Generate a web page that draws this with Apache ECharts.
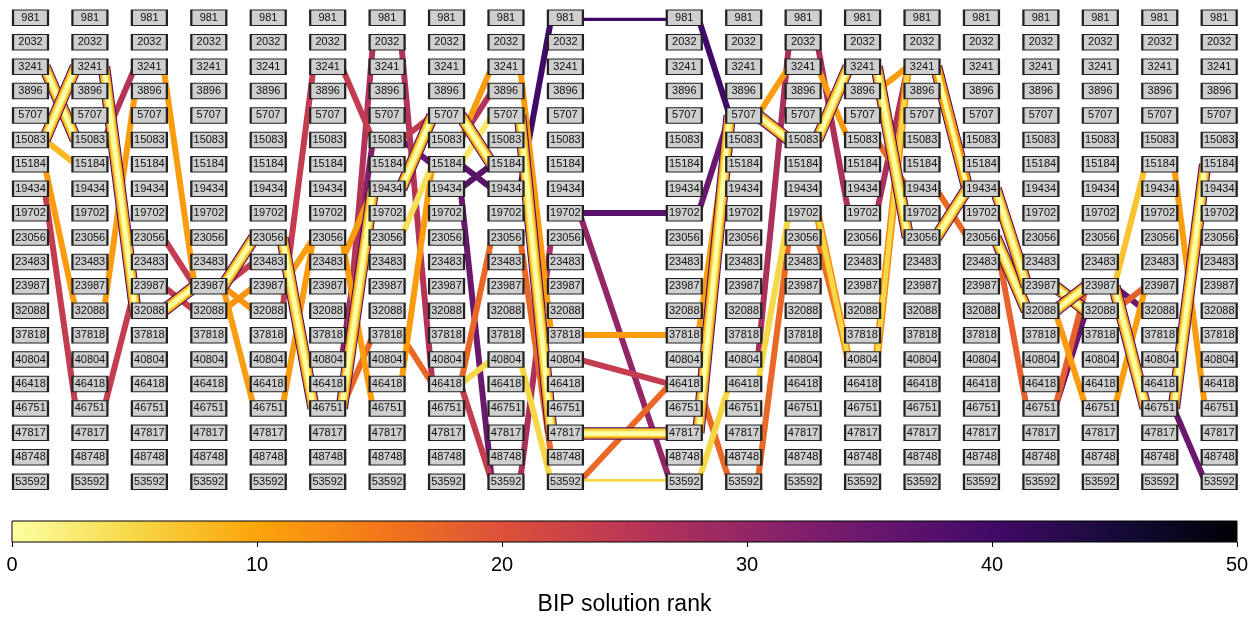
<!DOCTYPE html>
<html><head><meta charset="utf-8">
<script src="https://cdn.jsdelivr.net/npm/echarts@6/dist/echarts.min.js"></script>
<style>html,body{margin:0;padding:0;background:#fff}#c{width:1257px;height:617px}</style>
</head><body><div id="c"></div>
<script>
// ---- data ----
const rowLabels = ['981','2032','3241','3896','5707','15083','15184','19434','19702','23056',
  '23483','23987','32088','37818','40804','46418','46751','47817','48748','53592'];
const columns = [0,1,2,3,4,5,6,7,8,9,11,12,13,14,15,16,17,18,19,20];
// [fromCol, fromRow, toCol, toRow, rank, border]
const segments = [
  [0,2,1,5,1,1],[0,5,1,2,1,1],[0,5,1,6,8,0],[0,6,1,12,11,0],[0,7,1,16,24,0],
  [1,2,2,12,1,1],[1,2,2,11,3,0],[1,12,2,3,11,0],[1,5,2,2,26,0],[1,16,2,11,24,0],
  [2,2,3,11,11,0],[2,9,3,11,24,0],[2,11,3,12,24,0],[2,12,3,11,1,1],
  [3,11,4,9,1,1],[3,11,4,12,12,0],[3,12,4,11,12,0],[3,11,4,16,11,0],[3,11,4,10,24,0],
  [4,9,5,16,1,1],[4,16,5,9,11,0],[4,11,5,9,11,0],[4,12,5,2,24,0],
  [5,2,6,5,24,0],[5,16,6,7,1,1],[5,9,6,16,11,0],[5,16,6,13,17,0],[5,16,6,1,26,0],[5,10,6,7,11,0],[5,14,6,5,32,0],
  [6,1,7,15,26,0],[6,5,7,4,24,0],[6,7,7,4,1,1],[6,9,7,6,4,0],[6,5,7,6,35,0],[6,13,7,15,17,0],[6,15,7,6,11,0],
  [7,4,8,6,1,1],[7,6,8,4,3,0],[7,5,8,2,11,0],[7,5,8,3,26,0],[7,7,8,6,37,0],[7,6,8,7,37,0],[7,7,8,19,35,0],
  [7,15,8,9,17,0],[7,15,8,19,24,0],[7,15,8,14,5,0],
  [8,2,9,13,11,0],[8,4,9,17,1,1],[8,9,9,18,17,0],[8,14,9,19,5,0],[8,19,9,9,27,0],[8,7,9,0,40,0],
  [9,0,11,0,40,0],[9,8,11,8,37,0],[9,13,11,13,11,0],[9,17,11,17,1,1],[9,19,11,19,5,0],[9,14,11,15,24,0],
  [9,19,11,15,17,0],[9,8,11,19,30,0],
  [11,0,12,4,40,0],[11,8,12,4,35,0],[11,17,12,4,1,1],[11,13,12,4,11,0],[11,15,12,19,17,0],[11,19,12,15,5,0],
  [12,4,13,2,11,0],[12,4,13,5,1,1],[12,14,13,1,27,0],[12,15,13,8,5,0],[12,19,13,9,17,0],
  [13,2,14,5,11,0],[13,5,14,2,1,1],[13,1,14,8,27,0],[13,9,14,14,17,0],[13,8,14,14,5,2],
  [14,2,15,9,1,1],[14,3,15,2,11,0],[14,8,15,2,27,0],[14,5,15,7,17,0],[14,14,15,2,5,2],
  [15,2,16,7,6,1],[15,9,16,7,1,1],[15,7,16,9,17,0],
  [16,9,17,12,1,1],[16,9,17,16,18,0],[16,7,17,11,1,1],
  [17,11,18,12,1,1],[17,12,18,11,1,1],[17,12,18,16,11,0],[17,16,18,12,35,0],[17,16,18,11,18,0],
  [18,11,19,16,1,1],[18,16,19,11,11,0],[18,11,19,12,35,0],[18,12,19,11,18,0],[18,11,19,6,7,0],
  [19,16,20,6,1,1],[19,6,20,16,11,0],[19,16,20,19,35,0]
];
const rankMin = 0, rankMax = 50;
const rankTicks = [0,10,20,30,40,50];
const colorTitle = 'BIP solution rank';

// ---- colormap (inferno, reversed) ----
const inferno = ['#000004','#160b39','#420a68','#6a176e','#932667','#bc3754','#dd513a','#f37819','#fca50a','#f6d746','#fcffa4'];
function hex2rgb(h){return [parseInt(h.slice(1,3),16),parseInt(h.slice(3,5),16),parseInt(h.slice(5,7),16)];}
function cmap(rank){
  let t = 1 - (rank - rankMin)/(rankMax - rankMin);
  t = Math.max(0, Math.min(1, t));
  const f = t*10, i = Math.min(9, Math.floor(f)), u = f - i;
  const a = hex2rgb(inferno[i]), b = hex2rgb(inferno[i+1]);
  const c = a.map((v,k)=>Math.round(v + (b[k]-v)*u));
  return 'rgb('+c.join(',')+')';
}

// ---- build line items ----
const dx = 0.236;
const order = segments.slice().sort((a,b)=> (b[4]-a[4]) || (a[5]-b[5]));
const lineItems = [];
order.forEach(s=>{
  const coords = [[s[0]+dx, s[1]], [s[2]-dx, s[3]]];
  if (s[5]===1){
    lineItems.push({coords, lineStyle:{color:cmap(40), width:12.5}});
    lineItems.push({coords, lineStyle:{color:cmap(12), width:10.5}});
    lineItems.push({coords, lineStyle:{color:cmap(s[4]+4), width:8}});
    lineItems.push({coords, lineStyle:{color:cmap(0), width:4.5}});
  } else if (s[5]===2){
    lineItems.push({coords, lineStyle:{color:cmap(13), width:8}});
    lineItems.push({coords, lineStyle:{color:cmap(s[4]), width:5}});
  } else {
    lineItems.push({coords, lineStyle:{color:cmap(s[4]), width:6}});
  }
});

const nodes = [];
columns.forEach(c=>rowLabels.forEach((l,r)=>nodes.push([c,r])));

const stops = [];
for (let k=0;k<=10;k++) stops.push({offset:k/10, color:inferno[10-k]});

const chart = echarts.init(document.getElementById('c'), null, {renderer:'canvas'});
chart.setOption({
  animation:false,
  backgroundColor:'#ffffff',
  grid:[
    {left:30.5, right:37.8, top:17.8, bottom:135.3},
    {left:12, right:20, top:521, height:22, show:true, borderColor:'#000', borderWidth:1,
     backgroundColor:new echarts.graphic.LinearGradient(0,0,1,0,stops)}
  ],
  xAxis:[
    {type:'value', min:0, max:20, show:false, gridIndex:0},
    {type:'value', min:rankMin, max:rankMax, interval:10, gridIndex:1,
     axisLine:{show:false}, splitLine:{show:false},
     axisTick:{show:true, length:5, lineStyle:{color:'#000'}},
     axisLabel:{color:'#000', fontSize:20, margin:13, fontFamily:'Liberation Sans, Arial, sans-serif'},
     name:colorTitle, nameLocation:'middle', nameGap:51,
     nameTextStyle:{color:'#000', fontSize:23, fontFamily:'Liberation Sans, Arial, sans-serif'}}
  ],
  yAxis:[
    {type:'value', min:0, max:19, inverse:true, show:false, gridIndex:0},
    {type:'value', min:0, max:1, show:false, gridIndex:1}
  ],
  series:[
    {type:'lines', coordinateSystem:'cartesian2d', xAxisIndex:0, yAxisIndex:0, z:2, silent:true,
     polyline:false, lineStyle:{cap:'butt', opacity:1}, data:lineItems},
    {type:'scatter', xAxisIndex:0, yAxisIndex:0, z:5, silent:true,
     symbol:'rect', symbolSize:[35,15.5],
     itemStyle:{color:'#cfcfcf', borderColor:'#222', borderWidth:1.5, opacity:1},
     label:{show:true, position:'inside', color:'#111', fontSize:11,
       fontFamily:'Liberation Sans, Arial, sans-serif',
       formatter:p=>rowLabels[p.value[1]]},
     data:nodes}
  ]
});
</script>
</body></html>
